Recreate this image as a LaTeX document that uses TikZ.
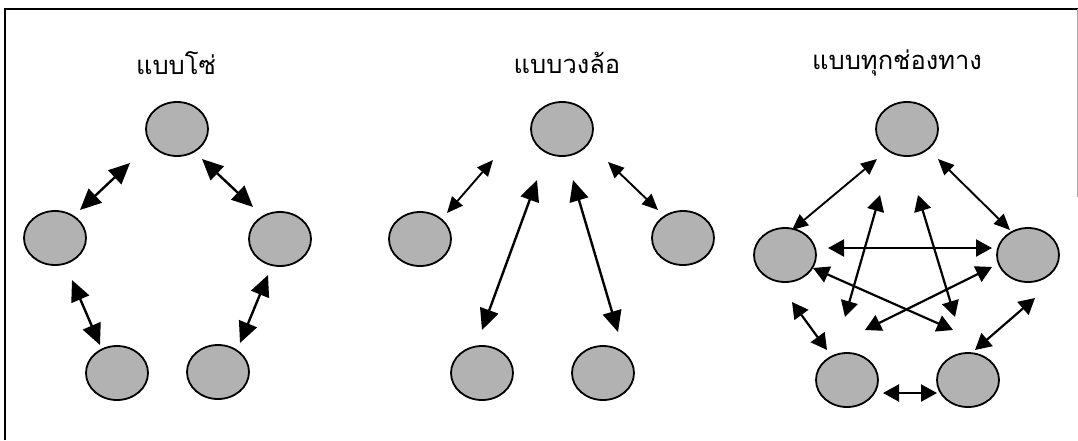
\documentclass[tikz,border=0pt]{standalone}
\usepackage{fontspec}
\newfontfamily\thaifont[Script=Thai]{Loma}
\usetikzlibrary{shapes.geometric,arrows.meta}
\tikzset{
  peer/.style={ellipse, draw=black, line width=1.8pt, fill=black!30, minimum width=62pt, minimum height=54pt, inner sep=0pt},
  link/.style={line width=2.4pt, {Triangle[length=21pt,width=19pt]}-{Triangle[length=21pt,width=19pt]}},
  thinlink/.style={line width=1.9pt, {Triangle[length=16pt,width=14pt]}-{Triangle[length=16pt,width=14pt]}},
  meshlink/.style={line width=2.2pt, {Triangle[length=16pt,width=17pt]}-{Triangle[length=16pt,width=17pt]}},
  title/.style={font=\thaifont\fontsize{25.5}{30}\selectfont, inner sep=0pt}
}
\begin{document}
\begin{tikzpicture}[x=1pt,y=-1pt]
\useasboundingbox (0,0) rectangle (1078,440);
% frame
\draw[line width=1.4pt] (5,440) -- (5,9) -- (1078,9);
\draw[line width=0.8pt, black!35] (1077,9) -- (1077,197);

% ---------- panel 1 : chain ----------
\node[title] (t1) at (176,63) {แบบโซ่};
\node[peer] (a1) at (177,129) {};
\node[peer] (a2) at (55,238) {};
\node[peer] (a3) at (280,239) {};
\node[peer] (a4) at (117,373) {};
\node[peer] (a5) at (218,372) {};
\coordinate (a1l) at (130,163); \coordinate (a2t) at (80,210);
\coordinate (a1r) at (202,159); \coordinate (a3t) at (253,207);
\coordinate (a2b) at (72,280);  \coordinate (a4t) at (100,345);
\coordinate (a3b) at (268,275); \coordinate (a5t) at (240,343);
\draw[link] (a1l) -- (a2t);
\draw[link] (a1r) -- (a3t);
\draw[link] (a2b) -- (a4t);
\draw[link] (a3b) -- (a5t);

% ---------- panel 2 : wheel ----------
\node[title] (t2) at (567,63) {แบบวงล้อ};
\node[peer] (b1) at (562,129) {};
\node[peer] (b2) at (420,239) {};
\node[peer] (b3) at (683,238) {};
\node[peer] (b4) at (482,373) {};
\node[peer] (b5) at (603,373) {};
\coordinate (b1l) at (493,160); \coordinate (b2t) at (447,213);
\coordinate (b1r) at (608,162); \coordinate (b3t) at (658,210);
\coordinate (b1m) at (537,180); \coordinate (b4t) at (482,330);
\coordinate (b1n) at (573,180); \coordinate (b5t) at (618,332);
\draw[thinlink] (b1l) -- (b2t);
\draw[thinlink] (b1r) -- (b3t);
\draw[link] (b1m) -- (b4t);
\draw[link] (b1n) -- (b5t);

% ---------- panel 3 : all channels ----------
\node[title] (t3) at (897,63) {แบบทุกช่องทาง};
\node[peer] (c1) at (907,129) {};
\node[peer] (c2) at (785,255) {};
\node[peer] (c3) at (1028,255) {};
\node[peer] (c4) at (847,380) {};
\node[peer] (c5) at (968,380) {};
\coordinate (c1l) at (877,159); \coordinate (c2t) at (792,230);
\coordinate (c1r) at (938,159); \coordinate (c3t) at (1010,230);
\coordinate (c1m) at (880,195); \coordinate (c4t) at (845,317);
\coordinate (c1n) at (918,195); \coordinate (c5t) at (955,317);
\coordinate (c2r) at (828,248); \coordinate (c3l) at (992,248);
\coordinate (c2d) at (813,268); \coordinate (c5u) at (953,330);
\coordinate (c3d) at (992,267); \coordinate (c4u) at (865,330);
\coordinate (c2b) at (792,302); \coordinate (c4l) at (827,350);
\coordinate (c3b) at (1035,298); \coordinate (c5r) at (975,350);
\coordinate (c4r) at (883,393); \coordinate (c5l) at (937,393);
\draw[thinlink] (c1l) -- (c2t);
\draw[thinlink] (c1r) -- (c3t);
\draw[meshlink] (c1m) -- (c4t);
\draw[meshlink] (c1n) -- (c5t);
\draw[meshlink] (c2r) -- (c3l);
\draw[meshlink] (c2d) -- (c5u);
\draw[meshlink] (c3d) -- (c4u);
\draw[meshlink] (c2b) -- (c4l);
\draw[meshlink] (c3b) -- (c5r);
\draw[meshlink] (c4r) -- (c5l);
\end{tikzpicture}
\end{document}
